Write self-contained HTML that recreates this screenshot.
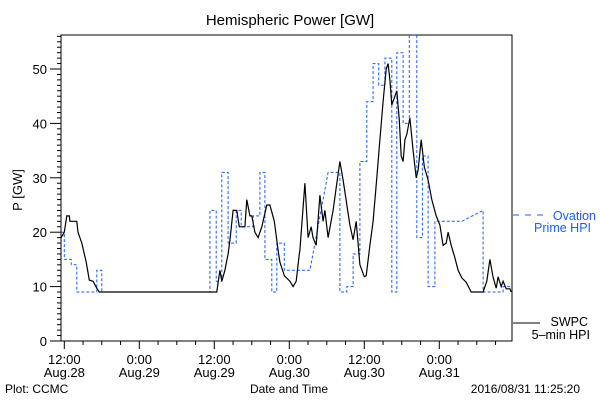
<!DOCTYPE html>
<html><head><meta charset="utf-8"><style>
body{margin:0;background:#fff}
svg{display:block;font-family:"Liberation Sans",sans-serif}
</style></head><body>
<svg id="c" width="600" height="400" viewBox="0 0 600 400">
<rect x="0" y="0" width="600" height="400" fill="#fff"/>
<text x="290" y="25" font-size="15" text-anchor="middle">Hemispheric Power [GW]</text>
<text transform="translate(22,190) rotate(-90)" font-size="13" text-anchor="middle">P [GW]</text>
<text x="289" y="393" font-size="12" text-anchor="middle">Date and Time</text>
<text x="5" y="393" font-size="12">Plot: CCMC</text>
<text x="580" y="393" font-size="12" text-anchor="end">2016/08/31 11:25:20</text>
<g id="axes"></g>
<g id="series"></g>
<g>
<line x1="513" y1="215" x2="545" y2="215" stroke="#1a5cff" stroke-width="1" stroke-dasharray="6,6"/>
<text x="596" y="220" font-size="12.5" fill="#1a5cff" text-anchor="end">Ovation</text>
<text x="591" y="232" font-size="12.5" fill="#1a5cff" text-anchor="end">Prime HPI</text>
<line x1="513" y1="323" x2="540" y2="323" stroke="#000" stroke-width="1"/>
<text x="588" y="326" font-size="12.5" text-anchor="end">SWPC</text>
<text x="590" y="339" font-size="12.5" text-anchor="end">5–min HPI</text>
</g>
</svg>
<script>
// hours since Aug 28 12:00
const xTickHours = [0, 12, 24, 36, 48, 60];
const xTickTop = ["12:00", "0:00", "12:00", "0:00", "12:00", "0:00"];
const xTickBottom = ["Aug.28", "Aug.29", "Aug.29", "Aug.30", "Aug.30", "Aug.31"];
const yTicks = [0, 10, 20, 30, 40, 50];
const swpcT = [-0.5,0,0.4,0.8,0.9,2,2.2,2.8,3.5,4,4.6,5.2,5.6,24.4,24.9,25.2,25.7,26.2,26.5,27,27.6,28,28.9,29.2,29.7,30,30.5,31,31.6,32.4,32.9,33.6,34.2,34.5,35.2,36.1,36.6,37.1,37.6,37.7,38.5,39,39.5,39.8,40.3,40.9,41.4,41.7,42.2,43,43.6,44.1,44.6,45.7,46.2,46.7,47.3,48,48.3,48.9,49.4,50,50.5,51,51.5,51.8,52.1,52.4,52.9,53.2,53.6,53.9,54.2,54.5,54.8,55.3,55.8,56.3,56.6,57.1,57.6,58.2,58.8,59.5,60.1,60.6,61.1,61.4,61.9,62.5,63,63.6,64.3,65.1,67,67.6,68.1,68.6,69.1,69.4,69.9,70.2,70.7,71.3,71.5];
const swpcV = [19,20,23,23,22,22,20,18,14.5,11.2,11,9.7,9,9,13,11,13,16,18.5,24,24,21,21,26,23,23,20,19,21,25,25,22,16.7,14.5,12,11,10,11,16,16.7,29,19,21,19,17.6,26.8,22,24,19,24,29,33,29.6,21.3,18.6,22,14,11.8,12,17.6,22,30,37,44,50,51,48,43.4,45,46,40.6,34,33,37,38,41,35,30,31.4,37,32,29.6,26,23,21.3,17.6,18,20,17.6,15.3,13,11.6,10.8,9,9,11,15,11.8,9.7,11.8,10,11,9.6,9.6,9];
const ovT = [-0.5,0,0,1.1,1.1,2,2,5.2,5.2,6,6,23.3,23.3,24.3,24.3,25.2,25.2,26.2,26.2,27.5,27.5,28.3,28.3,30.2,30.2,31.3,31.3,32.1,32.1,33.2,33.2,34,34,35.2,35.2,39.3,42.2,44.1,44.1,45.2,45.2,46.2,46.2,47.3,47.3,48.4,48.4,49.4,49.4,50.3,50.3,51.3,51.3,52.4,52.4,53.2,53.2,54.2,54.2,55.2,55.2,56.4,56.4,57.3,57.3,58.2,58.2,59.3,59.3,63.6,67,67,70.2,70.2,71.5];
const ovV = [20,20,15,15,14,14,9,9,13,13,9,9,24,24,11,11,31,31,18,18,24,24,21,21,23,23,31,31,15,15,9,9,18,18,13,13,31,31,9,9,10,10,16,16,33,33,44,44,51,51,47,47,52,52,9,9,53,53,40,40,56.2,56.2,19,19,34,34,10,10,22,22,24,9,9,10,10];

const L=61, R=512, T=35, B=341;
const xs = t => 64.3 + 6.25*t;
const ys = v => B - 5.44*v;
const NS="http://www.w3.org/2000/svg";
const ax=document.getElementById('axes'), se=document.getElementById('series');
function mk(tag, attrs, parent){const e=document.createElementNS(NS,tag);for(const k in attrs)e.setAttribute(k,attrs[k]);parent.appendChild(e);return e;}

const frame=mk('rect',{x:L,y:T,width:R-L,height:B-T,fill:'none',stroke:'#000','stroke-width':1},ax);


// y minor ticks
for(let v=0; v<=56; v++){
  const major=v%10===0;
  const tk=mk('line',{x1:major?50:57,x2:L,y1:ys(v),y2:ys(v),stroke:'#000','stroke-width':1},ax);
  
  
}
yTicks.forEach(v=>{
  const t=mk('text',{x:47,y:ys(v)+5,'font-size':13,'text-anchor':'end'},ax);
  t.textContent=v;
  
  
});
for(let h=0; h<=71; h+=3){
  const major=h%12===0;
  const tk=mk('line',{x1:xs(h),x2:xs(h),y1:B,y2:major?B+8:B+4,stroke:'#000','stroke-width':1},ax);
  
  
}
xTickHours.forEach((h,i)=>{
  const a=mk('text',{x:xs(h),y:364,'font-size':13,'text-anchor':'middle'},ax);
  a.textContent=xTickTop[i];
  
  
  const b=mk('text',{x:xs(h),y:377,'font-size':13,'text-anchor':'middle'},ax);
  b.textContent=xTickBottom[i];
  
  
});
const ovPts=ovT.map((t,i)=>xs(t).toFixed(1)+','+ys(ovV[i]).toFixed(1)).join(' ');
const ov=mk('polyline',{points:ovPts,fill:'none',stroke:'#1a5cff','stroke-width':1,'stroke-dasharray':'3,2'},se);


const swPts=swpcT.map((t,i)=>xs(t).toFixed(1)+','+ys(swpcV[i]).toFixed(1)).join(' ');
const sw=mk('polyline',{points:swPts,fill:'none',stroke:'#000','stroke-width':1.2},se);


</script>
</body></html>
